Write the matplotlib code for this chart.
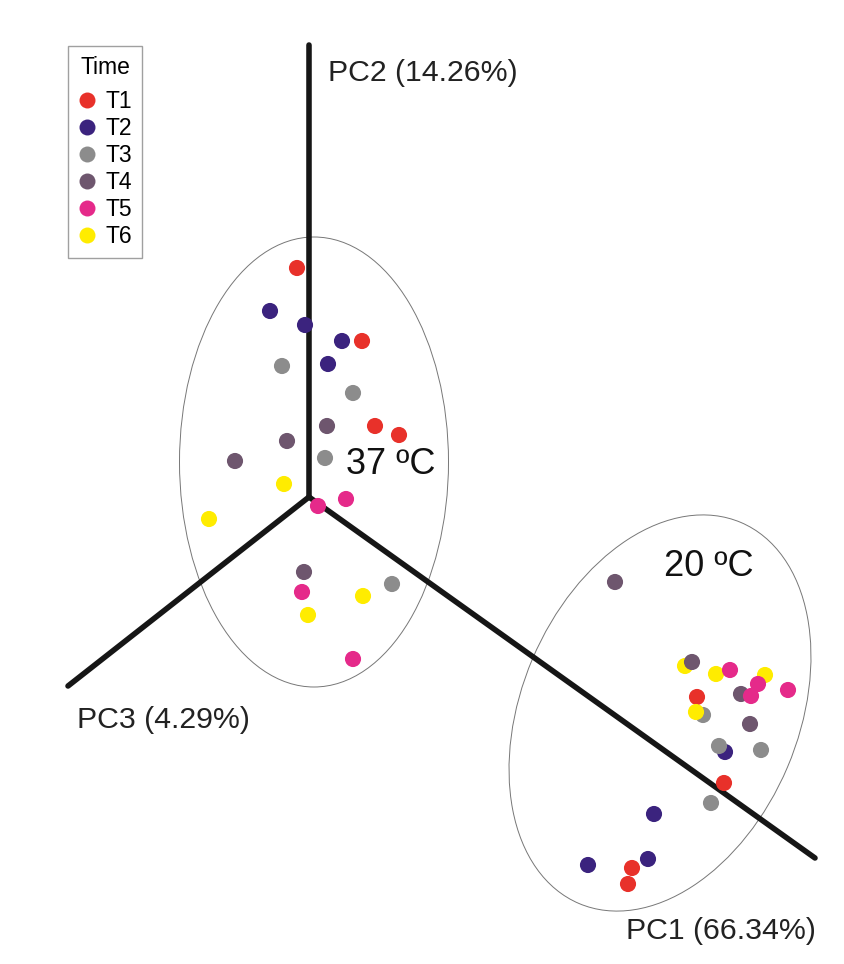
import matplotlib
matplotlib.use("Agg")
import matplotlib.pyplot as plt
from matplotlib.patches import Ellipse
from matplotlib.lines import Line2D

plt.rcParams['font.family'] = ['Liberation Sans', 'DejaVu Sans']

# ---- data (projected PCA scores, screen units) ----
groups = ["T1", "T2", "T3", "T4", "T5", "T6"]
colors = {"T1": "#E8312A", "T2": "#3B237E", "T3": "#8C8C8C",
          "T4": "#6E566E", "T5": "#E52A8A", "T6": "#FFEC00"}

t1_x = [297, 362, 375, 399, 697, 724, 632, 628]
t1_y = [268, 341, 426, 435, 697, 783, 868, 884]
t2_x = [270, 305, 342, 328, 725, 654, 648, 588]
t2_y = [311, 325, 341, 364, 752, 814, 859, 865]
t3_x = [282, 353, 325, 392, 703, 719, 761, 711]
t3_y = [366, 393, 458, 584, 715, 746, 750, 803]
t4_x = [327, 287, 235, 304, 615, 692, 741, 750]
t4_y = [426, 441, 461, 572, 582, 662, 694, 724]
t5_x = [346, 318, 302, 353, 730, 758, 751, 788]
t5_y = [499, 506, 592, 659, 670, 684, 696, 690]
t6_x = [284, 209, 363, 308, 685, 716, 765, 696]
t6_y = [484, 519, 596, 615, 666, 674, 675, 712]

points = {"T1": (t1_x, t1_y), "T2": (t2_x, t2_y), "T3": (t3_x, t3_y),
          "T4": (t4_x, t4_y), "T5": (t5_x, t5_y), "T6": (t6_x, t6_y)}
draw_order = ["T1", "T2", "T3", "T6", "T4", "T5"]

# axis directions (origin and end points of the PC axes)
origin = (309, 497)
axis_ends = {"PC1": (815, 858), "PC2": (309, 45), "PC3": (68, 686)}
axis_labels = {"PC1": "PC1 (66.34%)", "PC2": "PC2 (14.26%)", "PC3": "PC3 (4.29%)"}

fig = plt.figure(figsize=(8.45, 9.64), dpi=100)
ax = fig.add_axes([0, 0, 1, 1])
ax.set_xlim(0, 845)
ax.set_ylim(964, 0)
ax.axis("off")

# axes of the 3D plot
for k, (ex, ey) in axis_ends.items():
    ax.add_line(Line2D([origin[0], ex], [origin[1], ey], color="#161616",
                       lw=4.0, solid_capstyle="round", zorder=2))

# confidence ellipses
ax.add_patch(Ellipse((314, 462), 269, 450, angle=0, fill=False,
                     ec="#777777", lw=0.7, zorder=1))
ax.add_patch(Ellipse((660, 713), 277, 414, angle=23, fill=False,
                     ec="#777777", lw=0.7, zorder=1))

# points
for g in draw_order:
    xs, ys = points[g]
    ax.scatter(xs, ys, s=135, color=colors[g], edgecolors="none", zorder=3)

# labels
ax.text(328, 73, axis_labels["PC2"], fontsize=21.8, va="center", ha="left", color="#222222")
ax.text(77, 720, axis_labels["PC3"], fontsize=21.8, va="center", ha="left", color="#222222")
ax.text(626, 931, axis_labels["PC1"], fontsize=21.8, va="center", ha="left", color="#222222")
ax.text(346, 465, "37 ºC", fontsize=26, va="center", ha="left", color="#111111")
ax.text(664, 566, "20 ºC", fontsize=26, va="center", ha="left", color="#111111")

# legend
handles = [Line2D([], [], marker="o", ls="none", markersize=11.5, markerfacecolor=colors[g],
                  markeredgecolor="none", label=g) for g in groups]
leg = ax.legend(handles=handles, title="Time", loc="upper left",
                bbox_to_anchor=(68 / 845, 1 - 46 / 964), fontsize=16.5, title_fontsize=16.5,
                frameon=True, fancybox=False, edgecolor="#888888", labelspacing=0.17,
                handletextpad=0.37, handlelength=0.8, borderpad=0.45, borderaxespad=0)
leg.get_frame().set_linewidth(1.0)
leg._legend_box.sep = 8

fig.savefig("out.png", dpi=100)
